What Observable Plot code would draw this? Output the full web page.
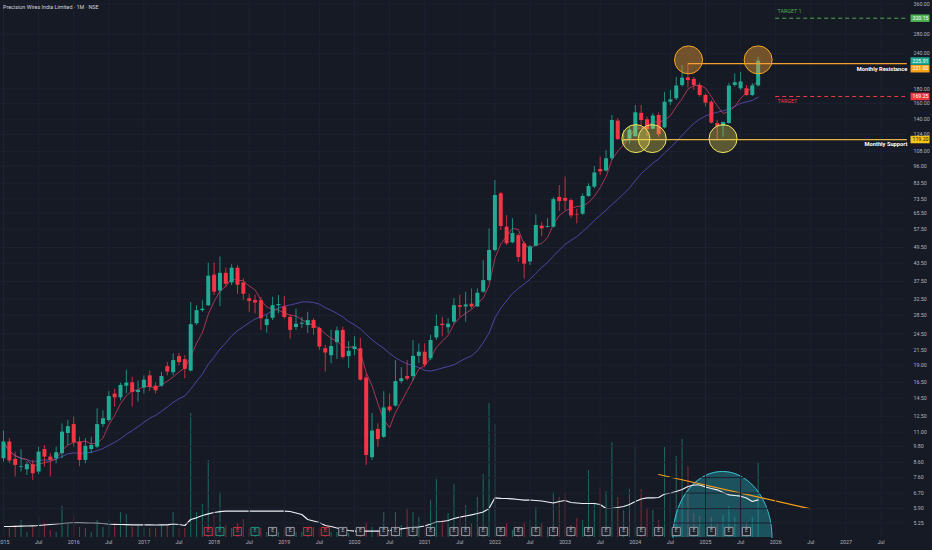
<!DOCTYPE html>
<html><head><meta charset="utf-8">
<script src="https://cdn.jsdelivr.net/npm/d3@7"></script>
<script src="https://cdn.jsdelivr.net/npm/@observablehq/plot@0.6"></script>
<style>
html,body{margin:0;padding:0;background:#161a25;}
#wrap{position:relative;width:932px;height:550px;overflow:hidden;background:#161a25;}
#wrap svg{position:absolute;left:0;top:0;}
#title{position:absolute;left:3px;top:4px;font:5.4px Roboto,"Liberation Sans",sans-serif;color:#d1d4dc;z-index:5;white-space:nowrap;}
</style></head>
<body>
<div id="wrap"><div id="title">Precision Wires India Limited · 1M · NSE</div></div>
<script>
// ---- data (monthly, starting Jan 2015) ----
const startYear = 2015;
const open = [8.86,10.15,8.81,8.27,8.10,8.44,7.95,9.55,8.98,8.86,
 9.23,10.88,11.70,10.15,8.74,9.55,9.74,11.70,12.1,15.0,
 14.55,16.0,16.45,15.2,15.75,17.4,16.0,16.0,18.75,17.85,
 20.35,19.85,18.1,26.6,29.6,30.8,39.5,34.7,40.1,37.1,
 41.8,37.1,32.6,32.1,32.1,26.2,27.8,30.8,30.5,28.0,
 25.8,26.5,26.2,27.3,25.6,21.7,20.5,22.8,25.2,20.35,
 21.55,21.7,17.1,8.94,11.25,10.55,13.5,13.6,16.6,17.3,
 17.3,20.4,21.1,20.0,23.7,26.5,25.75,26.95,30.8,30.5,
 31.2,30.5,34.4,37.8,48.3,76.6,58.4,51.4,54.5,51.0,
 44.0,50.0,58.9,58.3,58.4,74.4,73.8,72.5,64.5,64.9,
 75.0,80.9,93.4,92.2,101.9,138.5,117.4,119.5,122.0,147.5,
 140.0,129.6,145.0,131.0,161.5,166.2,185.1,197.0,194.6,185.1,
 170.6,161.5,135.8,132.6,135.8,185.1,180.2,180.2,170.6,184.5];
const high = [11.1,10.44,9.35,9.53,8.62,8.74,9.74,9.87,9.23,9.74,
 11.77,12.1,12.43,10.55,10.44,10.55,13.3,13.1,15.3,15.6,
 16.4,18.2,17.2,16.7,17.4,18.1,16.45,17.9,19.4,20.8,
 20.9,20.5,31.6,30.8,32.1,43.5,43.6,45.8,41.8,43.0,
 42.7,38.3,33.8,33.5,33.0,28.6,33.0,33.5,33.2,28.6,
 29.95,28.0,29.2,27.7,25.9,22.3,25.2,25.9,25.9,23.0,
 23.9,23.6,17.7,12.8,11.77,15.3,15.0,19.7,18.6,19.7,
 23.2,22.6,22.6,24.2,28.6,28.0,27.7,32.6,33.5,34.4,
 35.3,35.3,44.5,57.5,85.4,77.6,64.2,62.5,55.3,52.0,
 50.3,64.5,60.6,62.6,74.4,82.0,87.8,73.5,67.6,76.6,
 83.1,95.7,103.3,109.0,145.0,141.4,128.3,133,157.3,157.3,
 142.9,147.4,148.1,175.0,177.7,197.9,217.8,221.7,197.9,189.0,
 172.8,163.8,139.2,137.3,188.2,203.3,206.0,185.1,188.2,233];
const low = [8.62,8.51,7.64,7.95,7.73,7.42,7.79,8.28,7.64,8.51,
 8.86,9.87,9.74,8.32,8.51,9.23,9.62,11.45,11.93,13.5,
 14.2,15.0,13.5,14.05,15.0,15.3,15.0,15.85,17.4,17.4,
 18.9,17.0,17.95,26.2,29.2,30.6,33.5,30.6,35.7,36.3,
 33.8,32.1,29.2,28.8,25.2,24.6,27.3,28.85,27.6,23.5,
 25.2,25.6,24.6,24.2,21.4,17.95,19.2,19.9,19.9,18.5,
 20.5,16.7,8.39,8.74,9.74,10.44,12.9,13.5,16.3,16.7,
 16.7,19.2,18.6,19.7,23.2,23.9,24.6,26.5,28.0,26.95,
 29.95,30.35,34.1,37.4,47.7,56.8,50.3,51.0,43.9,38.3,
 42.7,49.7,54.0,58.0,58.0,66.4,66.9,62.7,60.0,64.2,
 74.4,79.8,88.9,91.6,100.5,118.3,113.5,115,121.6,133.6,
 122.0,129.2,121.2,129.9,157.3,163.8,182.6,181.4,177.7,168.5,
 155.5,135.2,118.3,121.4,135.2,182.6,177.7,169.2,169.2,182.6];
const close = [10.15,8.70,8.39,8.32,8.44,7.84,9.35,8.98,8.74,9.30,
 11.0,11.5,10.1,8.74,9.80,9.87,11.70,12.27,14.7,14.55,
 16.1,16.4,15.2,15.45,16.8,15.85,15.4,17.3,17.95,19.7,
 19.4,18.35,26.4,29.6,29.95,39.2,34.4,40.1,36.7,41.8,
 36.4,33.8,31.9,31.5,27.7,27.5,30.8,31.1,28.0,25.2,
 26.5,26.7,27.3,25.6,22.0,20.95,22.1,25.1,20.2,21.25,
 22.0,16.8,9.10,11.1,10.35,13.4,13.1,16.6,17.0,16.95,
 20.4,21.1,19.0,23.2,26.0,26.2,26.5,30.8,30.4,31.0,
 30.5,34.1,37.8,48.3,75.6,58.7,51.0,55.5,45.6,43.2,
 49.7,59.2,57.6,58.7,73.1,71.9,72.1,64.0,64.2,75.0,
 81.3,90.8,91.6,101.9,139.2,119.1,119.1,128.6,148.2,139.2,
 129.2,144.4,124.0,161.5,164.7,184.3,196.5,192.8,185.1,170.6,
 160.3,136.3,132.0,137.0,184.3,189.3,190.5,170.6,184.5,225.91];
const volume = [2.9,0.9,1.2,1.7,0.5,1.0,2.0,1.4,0.7,0.5,
 3.1,1.4,2.1,1.0,0.9,0.5,1.7,1.0,1.7,1.4,
 2.5,2.3,1.0,1.2,0.9,0.9,0.9,1.2,1.1,2.5,
 0.9,0.9,12.4,2.5,3.3,7.7,2.2,4.5,1.2,0.9,
 1.4,1.8,0.9,1.0,0.9,0.5,0.5,0.5,0.9,0.7,
 0.5,0.5,0.9,1.0,0.9,0.7,0.5,0.5,0.5,0.4,
 0.4,0.5,1.5,1.0,0.7,2.5,0.7,2.5,1.2,2.9,
 2.5,2.0,0.9,3.7,5.8,1.7,2.4,5.3,2.0,3.2,
 1.4,4.0,6.3,13.4,11.3,1.0,1.4,0.7,1.0,1.5,
 1.7,3.0,1.4,1.0,4.5,4.0,4.4,1.2,1.9,1.7,
 6.7,3.4,5.0,4.6,9.5,4.0,2.7,4.8,9.1,4.8,
 2.9,2.7,1.7,9.0,4.0,8.1,9.8,7.1,2.4,2.1,
 3.2,2.0,1.4,2.2,3.1,2.0,1.4,1.5,2.0,7.4];
const indicator = [1.1,1.1,1.12,1.14,1.15,1.17,1.2,1.25,1.3,1.35,
 1.4,1.45,1.5,1.48,1.47,1.45,1.43,1.4,1.35,1.32,
 1.3,1.28,1.27,1.27,1.27,1.26,1.25,1.26,1.27,1.37,
 1.3,1.2,1.8,1.97,2.2,2.37,2.5,2.58,2.63,2.63,
 2.63,2.63,2.63,2.63,2.63,2.63,2.63,2.63,2.63,2.6,
 2.45,2.3,1.8,1.65,1.5,1.2,1.1,0.95,0.8,0.7,
 0.63,0.63,0.63,0.63,0.63,0.63,0.7,0.8,0.87,0.95,
 1.0,1.05,1.15,1.35,1.55,1.6,1.7,1.9,2.03,2.15,
 2.27,2.4,2.55,2.9,3.97,3.92,3.9,3.87,3.8,3.73,
 3.75,3.7,3.65,3.55,3.45,3.6,3.7,3.5,3.45,3.4,
 3.4,3.4,3.3,2.9,2.9,3.0,3.1,3.3,3.6,3.85,
 3.97,3.97,4.0,4.35,4.43,4.6,4.8,5.1,5.25,5.25,
 5.05,4.9,4.77,4.5,4.27,4.2,4.13,3.95,3.6,3.77];
const earningsMonth = [35,37,40,43,46,49,52,55,58,61,65,67,70,73,77,79,82,85,88,91,94,97,100,103,106,109,112,115,118,121,124,127];
const earningsResult = ["miss","beat","miss","beat","none","none","miss","miss"];
const xTickMonths = [0,6,12,18,24,30,36,42,48,54,60,66,72,78,84,90,96,102,108,114,120,126,132,138,144,150];
const yTickValues = [360,280,240,180,160,140,124,108,96,83.5,73.5,65.5,57.5,49.5,43.5,37.5,32.5,28.5,24.5,21.5,19,16.5,14.5,12.5,11,9.8,8.6,7.6,6.7,5.9,5.25];
const resistance = 221.00, support = 119.20, target = 169.25, target1 = 320.15, lastPrice = 225.91;
const topCircles = [{m:117.1, p:228}, {m:129, p:228}];
const bottomCircles = [{m:108.1, p:120.1}, {m:110.9, p:120.1}, {m:123, p:120.1}];
const resistanceStart = 117.1, supportStart = 106, targetStart = 132, lineEnd = 154.5;
const volTrend = [{m:112.0, v:6.3}, {m:137.95, v:2.87}];
const domeSpec = {cx:122.9, rx:8.46, ry:6.6};

// ---- derived ----
const GREEN = "#22ab94", RED = "#f23645";
const candles = open.map((o,i)=>({m:i, o, h:high[i], l:low[i], c:close[i], v:volume[i], ind:indicator[i]}));
const col = d => d.c >= d.o ? GREEN : RED;
const earnings = earningsMonth.map((m,i)=>({m, r: earningsResult[i] || "none"}));
const earnCol = d => d.r === "miss" ? RED : d.r === "beat" ? GREEN : "#b2b5be";
const domePts = d3.range(0, 61).map(i => { const t = Math.PI*(1 - i/60); return {x: domeSpec.cx + domeSpec.rx*Math.cos(t), y: domeSpec.ry*Math.sin(t)}; });
const xTickFmt = m => m % 12 === 0 ? String(startYear + m/12) : "Jul";

const W = 932, H = 550;
const xScale = {type:"linear", domain:[0,156], range:[3,915.6], axis:null, label:null};
const font = "Roboto, 'Liberation Sans', sans-serif";

const boxX1 = 155.13, boxX2 = 158.38, boxXC = 156.75;
const boxes = [
  {p:target1, fill:"#4caf50", text:"#ffffff"},
  {p:lastPrice, fill:GREEN, text:"#ffffff"},
  {p:target, fill:RED, text:"#ffffff"},
  {p:support, fill:"#f5c518", text:"#131722"}
];
const shiftedBoxes = [{p:resistance, fill:"#f7a21b", text:"#ffffff"}];

// ---- volume / indicator pane (underneath) ----
const vol = Plot.plot({
  width:W, height:H, marginTop:0, marginRight:26, marginBottom:13, marginLeft:0,
  style:{background:"transparent", fontFamily:font},
  x:xScale,
  y:{domain:[0,14], range:[537,397], axis:null},
  marks:[
    Plot.ruleX(candles, {x:"m", y1:0, y2:"v", stroke:col, strokeOpacity:0.5, strokeWidth:1.1}),
    Plot.areaY(domePts, {x:"x", y1:0, y2:"y", fill:"rgb(40,170,190)", fillOpacity:0.38}),
    Plot.line(domePts, {x:"x", y:"y", stroke:"#3cc4d4", strokeWidth:1}),
    Plot.lineY(candles, {x:"m", y:"ind", stroke:"#eceff4", strokeWidth:1.2}),
    Plot.line(volTrend, {x:"m", y:"v", stroke:"#f59c1a", strokeWidth:1.2}),
    Plot.dot(earnings, {x:"m", frameAnchor:"bottom", dy:-6, symbol:"square", r:4.6, stroke:earnCol, strokeWidth:0.8, fill:"#1e222d"}),
    Plot.text(earnings, {x:"m", frameAnchor:"bottom", dy:-6, text:()=>"E", fill:earnCol, fontSize:5})
  ]
});

// ---- price pane (on top) ----
const main = Plot.plot({
  width:W, height:H, marginTop:0, marginRight:26, marginBottom:13, marginLeft:0,
  style:{background:"transparent", color:"#b2b5be", fontFamily:font, fontSize:"5.3px"},
  x:xScale,
  y:{type:"log", domain:[5.25,360], range:[522.5,3.3], axis:null, label:null},
  marks:[
    Plot.ruleX(xTickMonths, {x:d=>d, stroke:"#1d2130", strokeWidth:1}),
    Plot.ruleY(yTickValues, {y:d=>d, stroke:"#1d2130", strokeWidth:1}),
    Plot.axisX(xTickMonths, {anchor:"bottom", tickSize:0, tickPadding:3, tickFormat:xTickFmt, fill:"#b2b5be", label:null}),
    Plot.axisY(yTickValues, {anchor:"right", tickSize:0, tickPadding:7, tickFormat:d=>d.toFixed(2), fill:"#b2b5be", label:null}),
    Plot.lineY(candles, Plot.windowY({k:20, anchor:"end"}, {x:"m", y:"c", stroke:"#5d4fc0", strokeWidth:0.8})),
    Plot.lineY(candles, Plot.windowY({k:5, anchor:"end"}, {x:"m", y:"c", stroke:"#d9416a", strokeWidth:0.8, strokeOpacity:0.9})),
    Plot.ruleX(candles, {x:"m", y1:"l", y2:"h", stroke:col, strokeWidth:0.8}),
    Plot.ruleX(candles, {x:"m", y1:"o", y2:"c", stroke:col, strokeWidth:4}),
    Plot.ruleY([support], {y:d=>d, x1:supportStart, x2:lineEnd, stroke:"#e3b248", strokeWidth:1.2}),
    Plot.ruleY([resistance], {y:d=>d, x1:resistanceStart, x2:lineEnd, stroke:"#f5a033", strokeWidth:1.2}),
    Plot.ruleY([target], {y:d=>d, x1:targetStart, x2:lineEnd, stroke:RED, strokeWidth:1, strokeDasharray:"4,3"}),
    Plot.ruleY([target1], {y:d=>d, x1:targetStart, x2:lineEnd, stroke:"#4caf50", strokeWidth:1, strokeDasharray:"4,3"}),
    Plot.dot(topCircles, {x:"m", y:"p", r:14, fill:"rgb(242,160,50)", fillOpacity:0.42, stroke:"#f5a623", strokeWidth:1}),
    Plot.dot(bottomCircles, {x:"m", y:"p", r:14, fill:"rgb(240,225,80)", fillOpacity:0.32, stroke:"#f2e35a", strokeWidth:1}),
    Plot.text(["Monthly Resistance"], {x:lineEnd, y:resistance, dy:5.5, text:d=>d, textAnchor:"end", fill:"#ffffff", fontWeight:"bold", fontSize:5.7}),
    Plot.text(["Monthly Support"], {x:lineEnd, y:support, dy:5, text:d=>d, textAnchor:"end", fill:"#ffffff", fontWeight:"bold", fontSize:5.7}),
    Plot.text(["TARGET 1"], {x:targetStart+0.3, y:target1, dy:-6.5, text:d=>d, textAnchor:"start", fill:"#4caf50", fontSize:5.4}),
    Plot.text(["TARGET"], {x:targetStart+0.3, y:target, dy:5, text:d=>d, textAnchor:"start", fill:RED, fontSize:5.4}),
    Plot.ruleY(boxes, {y:"p", x1:boxX1, x2:boxX2, stroke:"fill", strokeWidth:7.5}),
    Plot.text(boxes, {x:boxXC, y:"p", text:d=>d.p.toFixed(2), fill:"text", fontSize:5.2}),
    Plot.ruleY(shiftedBoxes, {y:"p", x1:boxX1, x2:boxX2, dy:5, stroke:"fill", strokeWidth:7.5}),
    Plot.text(shiftedBoxes, {x:boxXC, y:"p", dy:5, text:d=>d.p.toFixed(2), fill:"text", fontSize:5.2})
  ]
});

const wrap = document.getElementById("wrap");
wrap.appendChild(vol);
wrap.appendChild(main);
</script>
</body></html>
